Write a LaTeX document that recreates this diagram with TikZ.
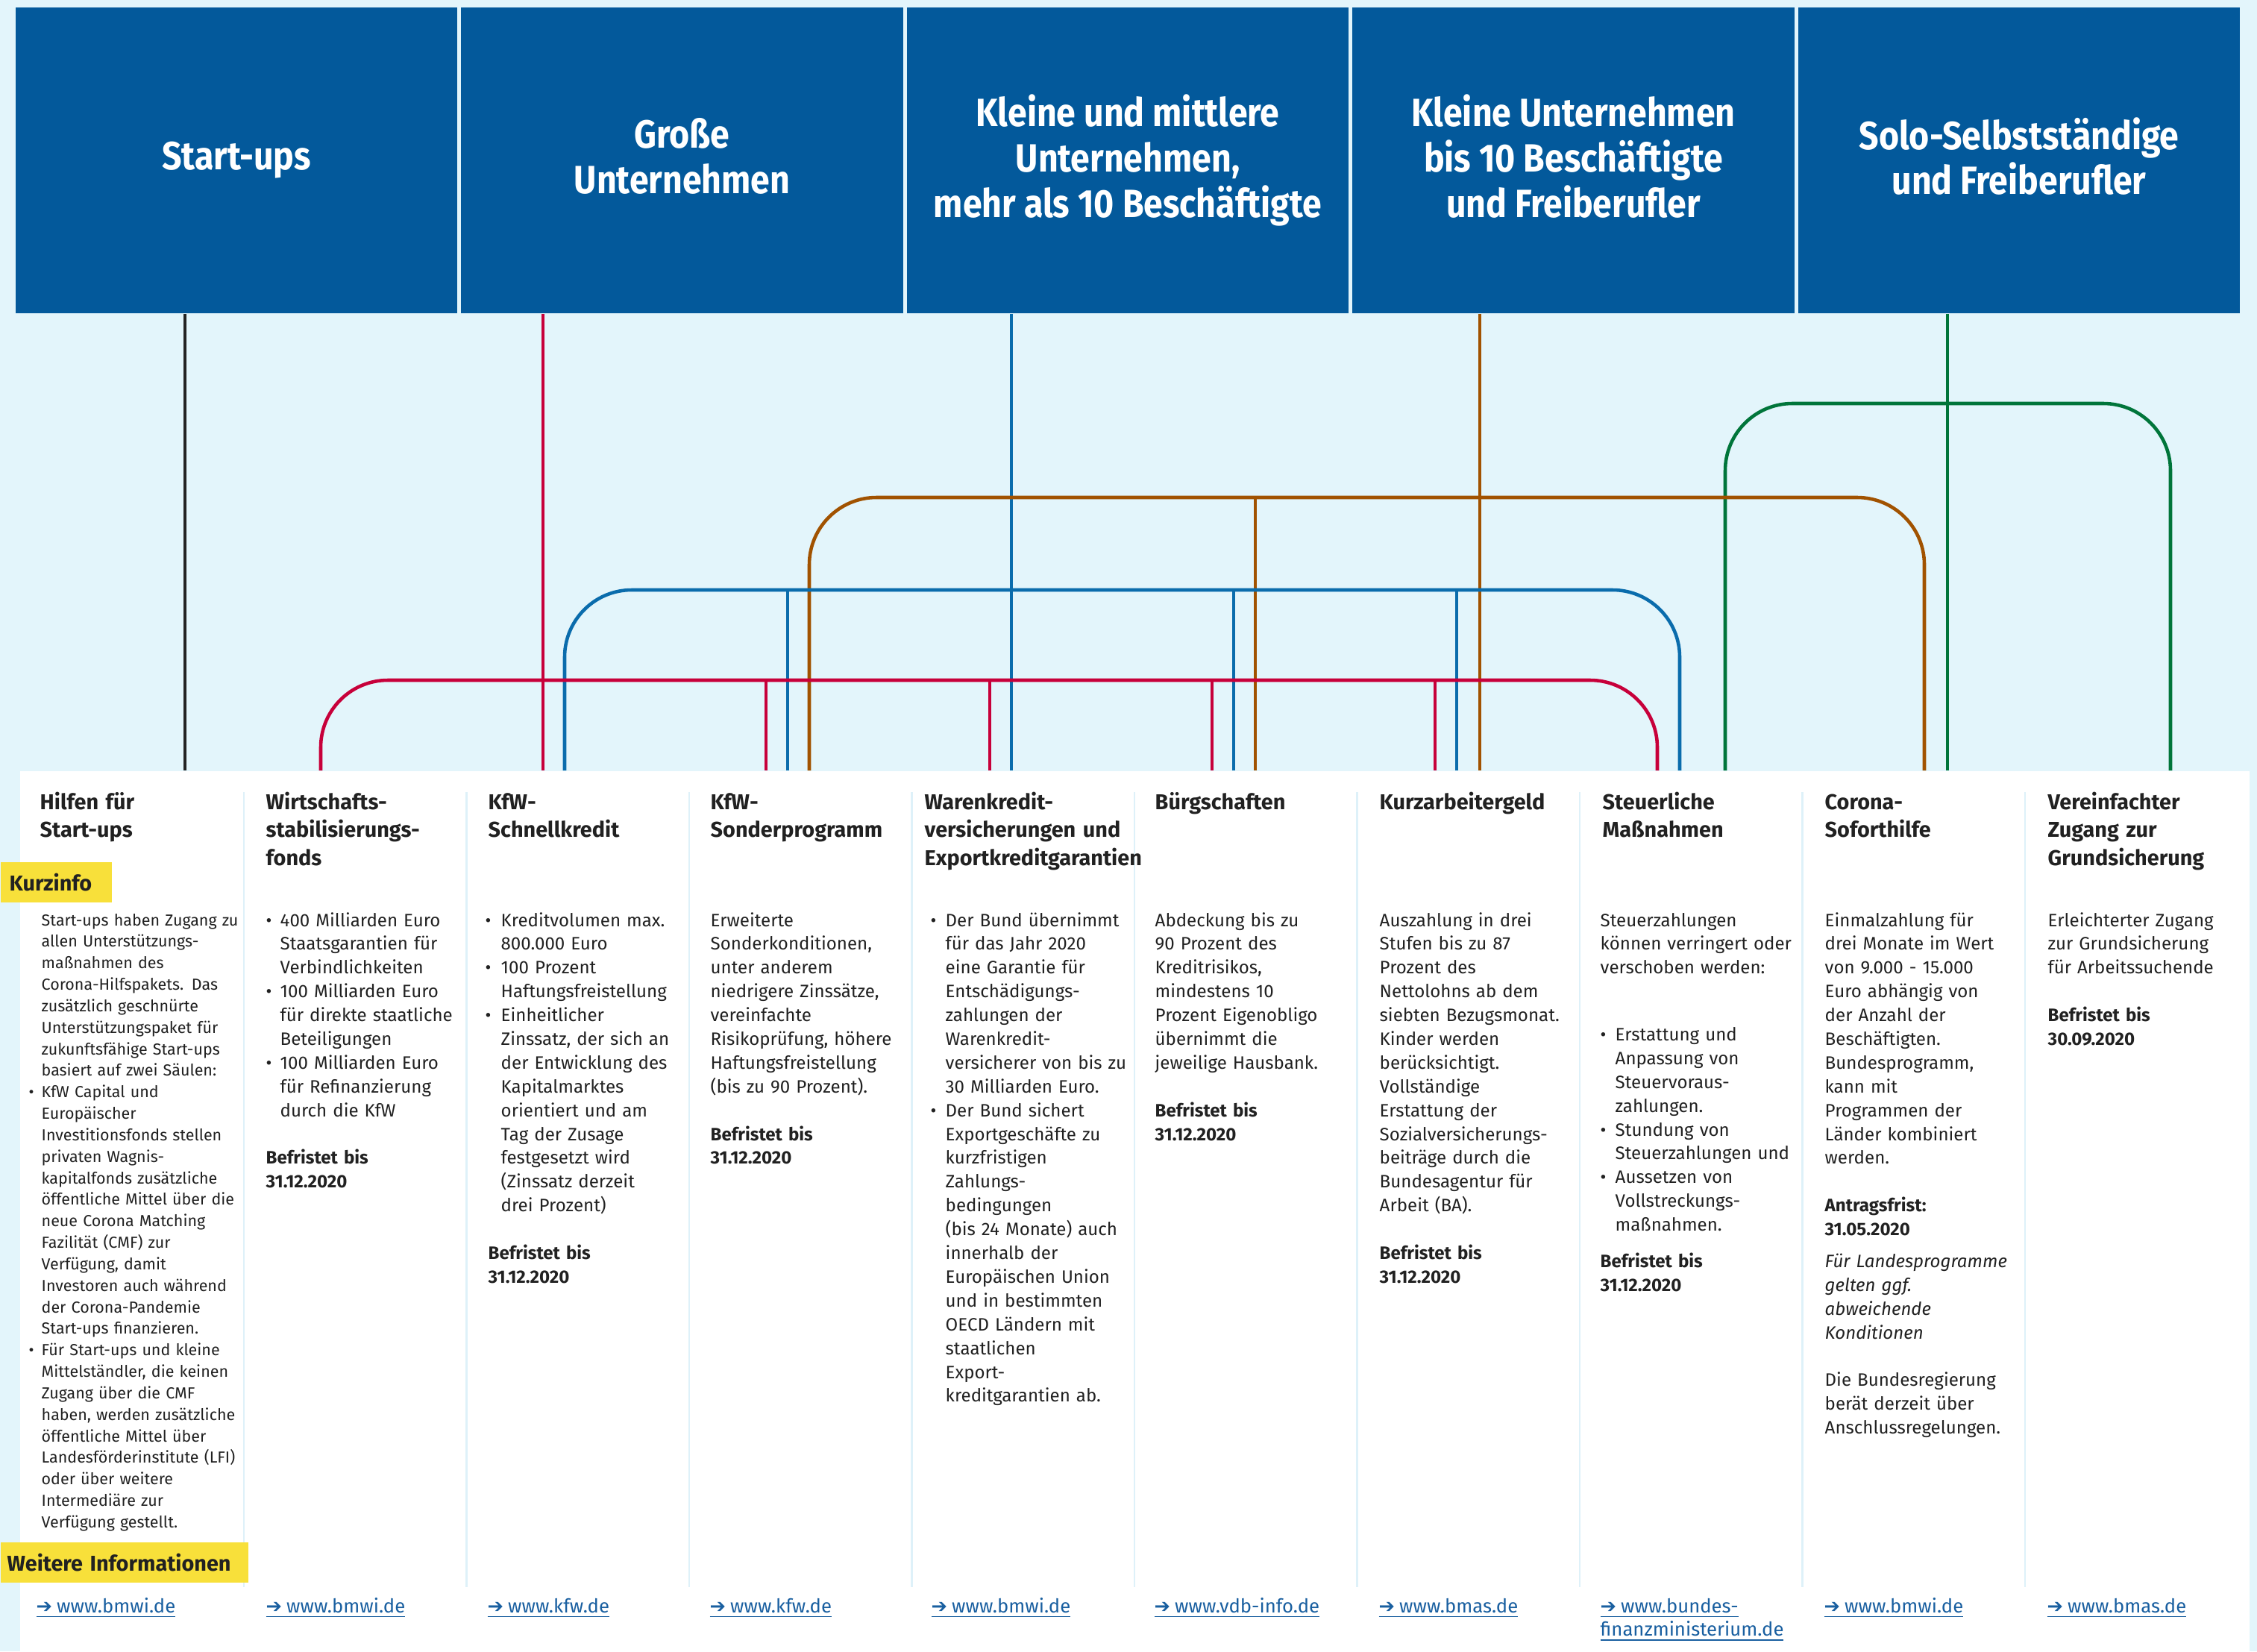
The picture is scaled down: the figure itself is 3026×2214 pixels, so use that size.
\documentclass[tikz,border=0pt]{standalone}
\usepackage{fontspec}
\setmainfont{Fira Sans}
\newfontfamily\hdfamily[FakeStretch=0.88]{Fira Sans}
\newfontfamily\symfamily{DejaVu Sans}
\usetikzlibrary{positioning}

\definecolor{bgblue}{RGB}{227,245,251}
\definecolor{headblue}{RGB}{3,89,155}
\definecolor{sepblue}{RGB}{222,241,249}
\definecolor{txt}{RGB}{33,33,33}
\definecolor{linkblue}{RGB}{25,95,160}
\definecolor{tagyellow}{RGB}{248,224,58}
\definecolor{lred}{RGB}{199,0,58}
\definecolor{lblue}{RGB}{10,108,172}
\definecolor{lbrown}{RGB}{161,82,0}
\definecolor{lgreen}{RGB}{0,117,58}
\definecolor{lblack}{RGB}{35,35,35}

\newcommand{\bodyfont}{\fontsize{6.85}{9.07}\selectfont}
\newcommand{\smallbody}{\fontsize{6.1}{8.2}\selectfont}
\newcommand{\titlefont}{\fontsize{8.2}{10.77}\selectfont\bfseries}
\newcommand{\headfont}{\hdfamily\fontsize{15}{17.3}\selectfont\bfseries}
\newcommand{\urlfont}{\fontsize{7.3}{9.07}\selectfont}
\newcommand{\bul}[1]{\makebox[#1][l]{\textbullet}}
\newcommand{\ind}[1]{\hspace*{#1}}
\newcommand{\hang}{\leavevmode\llap{\textbullet\hspace{0.1cm}}}
\newcommand{\frist}[1]{\textbf{Befristet bis}\\\textbf{#1}}
\newcommand{\arrowurl}[1]{\underline{{\symfamily\char"2794}\hspace{0.06cm}#1}}

\tikzset{
  headbox/.style={fill=headblue, text=white, minimum width=5.92cm, minimum height=4.1cm, inner sep=0pt, align=center, font=\headfont},
  panelbox/.style={fill=white, anchor=north west, minimum width=29.88cm, minimum height=11.81cm, inner sep=0pt},
  coltitle/.style={anchor=base west, text width=3.0cm, align=left, inner sep=0pt, font=\titlefont, text=txt},
  colbody/.style={anchor=base west, text width=3.2cm, align=left, inner sep=0pt, font=\bodyfont, text=txt},
  urlnode/.style={anchor=base west, text width=3.0cm, align=left, inner sep=0pt, font=\urlfont, text=linkblue},
  yellowtag/.style={fill=tagyellow, anchor=north west, align=left, inner ysep=0pt, minimum height=0.54cm, font=\titlefont, text=txt},
  sepline/.style={draw=sepblue, line width=0.8pt},
  blackline/.style={draw=lblack, line width=1.3pt},
  redline/.style={draw=lred, line width=1.3pt},
  blueline/.style={draw=lblue, line width=1.3pt},
  brownline/.style={draw=lbrown, line width=1.3pt},
  greenline/.style={draw=lgreen, line width=1.3pt}
}

\begin{document}
\begin{tikzpicture}[x=0.01cm, y=-0.01cm]
\def\ypanel{1033};
\def\ygreen{541};
\def\ybrown{667};
\def\yblue{791};
\def\yred{912};
\def\ytitle{1085};
\def\ybody{1242};
\def\ylink{2162};

\useasboundingbox (0,0) rectangle (3026,2214);
\fill[bgblue] (0,0) rectangle (3026,2214);

% target groups
\node[headbox] (hstart) at (317,215) {Start-ups};
\node[headbox] (hgross) at (914.5,215) {Große\\Unternehmen\vphantom{g}};
\node[headbox] (hkmu) at (1512,215) {Kleine und mittlere\\Unternehmen,\\mehr als 10 Beschäftigte};
\node[headbox] (hklein) at (2109.5,215) {Kleine Unternehmen\\bis 10 Beschäftigte\\und Freiberufler\vphantom{g}};
\node[headbox] (hsolo) at (2707,215) {Solo-Selbstständige\\und Freiberufler\vphantom{g}};

\node[panelbox] (panel) at (26,\ypanel) {};

% where the lines meet the panel
\coordinate (bk1) at (248,\ypanel);
\coordinate (r2) at (430,\ypanel);
\coordinate (r3) at (728,\ypanel);
\coordinate (r4) at (1027,\ypanel);
\coordinate (r5) at (1327,\ypanel);
\coordinate (r6) at (1625,\ypanel);
\coordinate (r7) at (1924,\ypanel);
\coordinate (r8) at (2222,\ypanel);
\coordinate (b3) at (757,\ypanel);
\coordinate (b4) at (1056,\ypanel);
\coordinate (b5) at (1356,\ypanel);
\coordinate (b6) at (1654,\ypanel);
\coordinate (b7) at (1953,\ypanel);
\coordinate (b8) at (2252,\ypanel);
\coordinate (o4) at (1085,\ypanel);
\coordinate (o6) at (1683,\ypanel);
\coordinate (o7) at (1984,\ypanel);
\coordinate (o9) at (2580,\ypanel);
\coordinate (g8) at (2313,\ypanel);
\coordinate (g9) at (2611,\ypanel);
\coordinate (g10) at (2910,\ypanel);

\coordinate (gbar) at (0,\ygreen);
\coordinate (obar) at (0,\ybrown);
\coordinate (bbar) at (0,\yblue);
\coordinate (rbar) at (0,\yred);

\draw[blackline] (hstart.south -| bk1) -- (bk1);
\draw[redline] (hgross.south -| r3) -- (r3);
\draw[blueline] (hkmu.south -| b5) -- (b5);
\draw[brownline] (hklein.south -| o7) -- (o7);
\draw[greenline] (hsolo.south -| g9) -- (g9);

\draw[greenline, rounded corners=0.9cm] (g8) |- (g10 |- gbar) -- (g10);
\draw[brownline, rounded corners=0.9cm] (o4) |- (o9 |- obar) -- (o9);
\draw[brownline] (o6) -- (o6 |- obar);
\draw[blueline, rounded corners=0.9cm] (b3) |- (b8 |- bbar) -- (b8);
\foreach \c in {b4,b6,b7} \draw[blueline] (\c) -- (\c |- bbar);
\draw[redline, rounded corners=0.9cm] (r2) |- (r8 |- rbar) -- (r8);
\foreach \c in {r4,r5,r6,r7} \draw[redline] (\c) -- (\c |- rbar);

% column rules
\foreach \i in {0,...,8} \draw[sepline] ({327+298.5*\i},1062) -- ({327+298.5*\i},2128);

% titles
\node[coltitle] (t1) at (53,\ytitle) {Hilfen für\\Start-ups};
\node[coltitle] (t2) at (356,\ytitle) {Wirtschafts-\\stabilisierungs-\\fonds};
\node[coltitle] (t3) at (654,\ytitle) {KfW-\\Schnellkredit};
\node[coltitle] (t4) at (952,\ytitle) {KfW-\\Sonderprogramm};
\node[coltitle] (t5) at (1239,\ytitle) {Warenkredit-\\versicherungen und\\Exportkreditgarantien};
\node[coltitle] (t6) at (1548,\ytitle) {Bürgschaften};
\node[coltitle] (t7) at (1849,\ytitle) {Kurzarbeitergeld};
\node[coltitle] (t8) at (2148,\ytitle) {Steuerliche\\Maßnahmen};
\node[coltitle] (t9) at (2446,\ytitle) {Corona-\\Soforthilfe};
\node[coltitle] (t10) at (2745,\ytitle) {Vereinfachter\\Zugang zur\\Grundsicherung};

\node[yellowtag, text width=1.25cm, inner xsep=0.12cm] (kurz) at (0,1155) {Kurzinfo};
\node[yellowtag, text width=3.14cm, inner xsep=0.09cm] (mehr) at (0,2067) {Weitere Informationen};

% texts
\node[colbody, font=\smallbody, text width=2.9cm] (k1) at (55,1241) {Start-ups haben Zugang zu\\allen Unterstützungs-\\maßnahmen des\\Corona-Hilfspakets. Das\\zusätzlich geschnürte\\Unterstützungspaket für\\zukunftsfähige Start-ups\\basiert auf zwei Säulen:\\\hang KfW Capital und\\Europäischer\\Investitionsfonds stellen\\privaten Wagnis-\\kapitalfonds zusätzliche\\öffentliche Mittel über die\\neue Corona Matching\\Fazilität (CMF) zur\\Verfügung, damit\\Investoren auch während\\der Corona-Pandemie\\Start-ups finanzieren.\\\hang Für Start-ups und kleine\\Mittelständler, die keinen\\Zugang über die CMF\\haben, werden zusätzliche\\öffentliche Mittel über\\Landesförderinstitute (LFI)\\oder über weitere\\Intermediäre zur\\Verfügung gestellt.};

\node[colbody] (k2) at (356,\ybody) {\bul{0.19cm}400 Milliarden Euro\\\ind{0.19cm}Staatsgarantien für\\\ind{0.19cm}Verbindlichkeiten\\\bul{0.19cm}100 Milliarden Euro\\\ind{0.19cm}für direkte staatliche\\\ind{0.19cm}Beteiligungen\\\bul{0.19cm}100 Milliarden Euro\\\ind{0.19cm}für Refinanzierung\\\ind{0.19cm}durch die KfW\\[\baselineskip]\frist{31.12.2020}};

\node[colbody] (k3) at (650,\ybody) {\bul{0.21cm}Kreditvolumen max.\\\ind{0.21cm}800.000 Euro\\\bul{0.21cm}100 Prozent\\\ind{0.21cm}Haftungsfreistellung\\\bul{0.21cm}Einheitlicher\\\ind{0.21cm}Zinssatz, der sich an\\\ind{0.21cm}der Entwicklung des\\\ind{0.21cm}Kapitalmarktes\\\ind{0.21cm}orientiert und am\\\ind{0.21cm}Tag der Zusage\\\ind{0.21cm}festgesetzt wird\\\ind{0.21cm}(Zinssatz derzeit\\\ind{0.21cm}drei Prozent)\\[\baselineskip]\ind{0.04cm}\textbf{Befristet bis}\\\ind{0.04cm}\textbf{31.12.2020}};

\node[colbody] (k4) at (952,\ybody) {Erweiterte\\Sonderkonditionen,\\unter anderem\\niedrigere Zinssätze,\\vereinfachte\\Risikoprüfung, höhere\\Haftungsfreistellung\\(bis zu 90 Prozent).\\[\baselineskip]\frist{31.12.2020}};

\node[colbody] (k5) at (1247,\ybody) {\bul{0.2cm}Der Bund übernimmt\\\ind{0.2cm}für das Jahr 2020\\\ind{0.2cm}eine Garantie für\\\ind{0.2cm}Entschädigungs-\\\ind{0.2cm}zahlungen der\\\ind{0.2cm}Warenkredit-\\\ind{0.2cm}versicherer von bis zu\\\ind{0.2cm}30 Milliarden Euro.\\\bul{0.2cm}Der Bund sichert\\\ind{0.2cm}Exportgeschäfte zu\\\ind{0.2cm}kurzfristigen\\\ind{0.2cm}Zahlungs-\\\ind{0.2cm}bedingungen\\\ind{0.2cm}(bis 24 Monate) auch\\\ind{0.2cm}innerhalb der\\\ind{0.2cm}Europäischen Union\\\ind{0.2cm}und in bestimmten\\\ind{0.2cm}OECD Ländern mit\\\ind{0.2cm}staatlichen\\\ind{0.2cm}Export-\\\ind{0.2cm}kreditgarantien ab.};

\node[colbody] (k6) at (1548,\ybody) {Abdeckung bis zu\\90 Prozent des\\Kreditrisikos,\\mindestens 10\\Prozent Eigenobligo\\übernimmt die\\jeweilige Hausbank.\\[\baselineskip]\frist{31.12.2020}};

\node[colbody] (k7) at (1849,\ybody) {Auszahlung in drei\\Stufen bis zu 87\\Prozent des\\Nettolohns ab dem\\siebten Bezugsmonat.\\Kinder werden\\berücksichtigt.\\Vollständige\\Erstattung der\\Sozialversicherungs-\\beiträge durch die\\Bundesagentur für\\Arbeit (BA).\\[\baselineskip]\frist{31.12.2020}};

\node[colbody] (k8) at (2145,\ybody) {Steuerzahlungen\\können verringert oder\\verschoben werden:\\[1.81\baselineskip]\bul{0.2cm}Erstattung und\\\ind{0.2cm}Anpassung von\\\ind{0.2cm}Steuervoraus-\\\ind{0.2cm}zahlungen.\\\bul{0.2cm}Stundung von\\\ind{0.2cm}Steuerzahlungen und\\\bul{0.2cm}Aussetzen von\\\ind{0.2cm}Vollstreckungs-\\\ind{0.2cm}maßnahmen.\\[0.53\baselineskip]\frist{31.12.2020}};

\node[colbody] (k9) at (2446,\ybody) {Einmalzahlung für\\drei Monate im Wert\\von 9.000 - 15.000\\Euro abhängig von\\der Anzahl der\\Beschäftigten.\\Bundesprogramm,\\kann mit\\Programmen der\\Länder kombiniert\\werden.\\[\baselineskip]\textbf{Antragsfrist:}\\\textbf{31.05.2020}\\[0.34\baselineskip]\textit{Für Landesprogramme}\\\textit{gelten ggf.}\\\textit{abweichende}\\\textit{Konditionen}\\[\baselineskip]Die Bundesregierung\\berät derzeit über\\Anschlussregelungen.};

\node[colbody] (k10) at (2745,\ybody) {Erleichterter Zugang\\zur Grundsicherung\\für Arbeitssuchende\\[\baselineskip]\frist{30.09.2020}};

% links
\node[urlnode] (w1) at (48,\ylink) {\arrowurl{www.bmwi.de}};
\node[urlnode] (w2) at (356,\ylink) {\arrowurl{www.bmwi.de}};
\node[urlnode] (w3) at (653,\ylink) {\arrowurl{www.kfw.de}};
\node[urlnode] (w4) at (951,\ylink) {\arrowurl{www.kfw.de}};
\node[urlnode] (w5) at (1248,\ylink) {\arrowurl{www.bmwi.de}};
\node[urlnode] (w6) at (1547,\ylink) {\arrowurl{www.vdb-info.de}};
\node[urlnode] (w7) at (1848,\ylink) {\arrowurl{www.bmas.de}};
\node[urlnode] (w8) at (2145,\ylink) {\arrowurl{www.bundes-}\\\underline{finanzministerium.de}};
\node[urlnode] (w9) at (2445,\ylink) {\arrowurl{www.bmwi.de}};
\node[urlnode] (w10) at (2744,\ylink) {\arrowurl{www.bmas.de}};

\end{tikzpicture}
\end{document}
